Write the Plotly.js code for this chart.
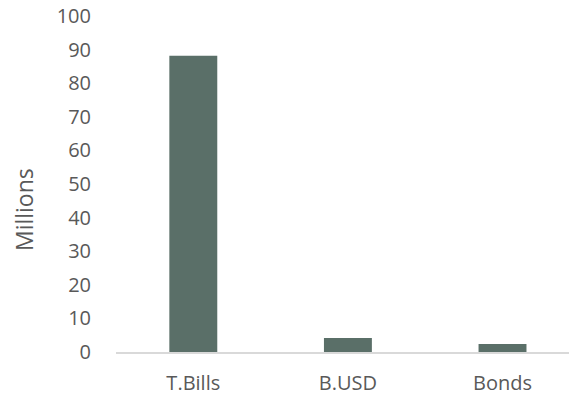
<!DOCTYPE html>
<html><head><meta charset="utf-8">
<script src="https://cdn.plot.ly/plotly-3.0.1.min.js"></script>
<style>html,body{margin:0;padding:0;background:#fff}#c{width:569px;height:396px}</style>
</head><body><div id="c"></div>
<script>
const categories = ["T.Bills", "B.USD", "Bonds"];
const values = [88.2, 4.2, 2.4];
const yTicks = [0,10,20,30,40,50,60,70,80,90,100];
const yTitle = "Millions";

Plotly.newPlot('c', [{
  type: 'bar', x: categories, y: values, width: 0.31,
  marker: {color: '#5a6f68'}, hoverinfo: 'skip'
}], {
  width: 569, height: 396,
  margin: {l: 116, r: 0, t: 16, b: 44},
  paper_bgcolor: '#fff', plot_bgcolor: '#fff',
  font: {family: '"Open Sans", Lato, sans-serif', size: 20, color: '#595959'},
  showlegend: false,
  xaxis: {range: [-0.5, 2.43], showline: true, linecolor: '#d9d9d9', linewidth: 2,
    ticks: '', showgrid: false, zeroline: false, ticklabelstandoff: 12, fixedrange: true},
  yaxis: {range: [0, 100], tickvals: yTicks, showgrid: false, zeroline: false, showline: false,
    ticks: '', ticklabelstandoff: 24, fixedrange: true},
  annotations: [{text: yTitle, textangle: -90, xref: 'paper', yref: 'paper',
    x: -0.203, y: 0.4226, xanchor: 'center', yanchor: 'middle', showarrow: false,
    font: {size: 23, color: '#595959'}}]
}, {displayModeBar: false, staticPlot: true});
</script></body></html>
